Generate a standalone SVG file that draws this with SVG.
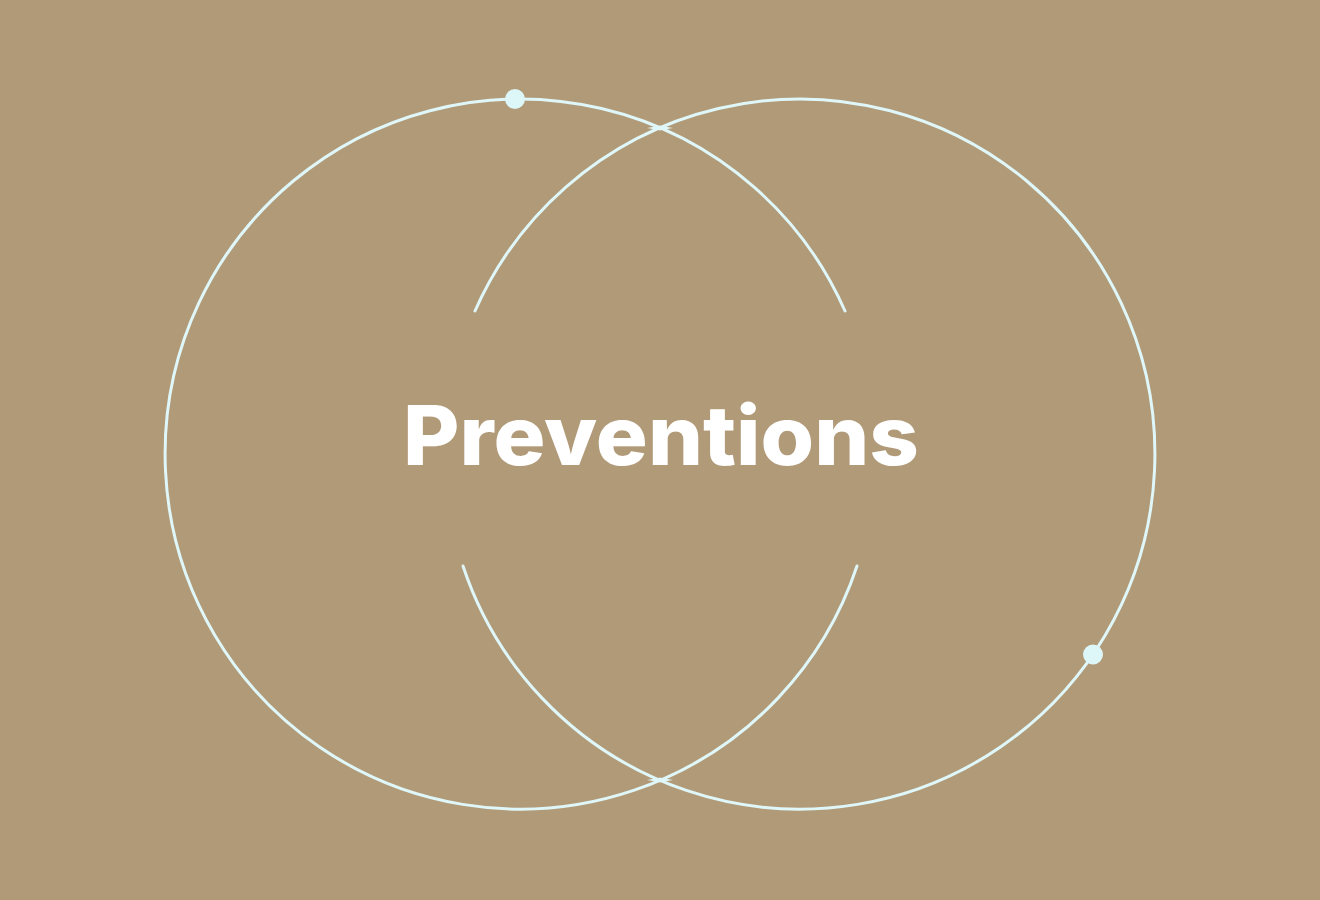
<svg xmlns="http://www.w3.org/2000/svg" width="1320" height="900" viewBox="0 0 1320 900">
  <style>
    .ring { fill: none; stroke: #E0F7F9; stroke-width: 3; stroke-linecap: round; }
    .dot { fill: #DDF6F8; }
    .joint { fill: #E0F7F9; }
    .title { font-family: Inter, "Open Sans", "Liberation Sans", sans-serif; font-weight: 800; font-size: 82px; fill: #FFFFFF; }
  </style>
  <rect width="1320" height="900" fill="#B19A78"/>
  <g id="connectors">
    <path id="left-ring" class="ring" d="M 845 311 A 355 355 0 1 0 857 566"/>
    <path id="right-ring" class="ring" d="M 475 311 A 355 355 0 1 1 463 566"/>
    <path class="joint" d="M 647 128 Q 660 126 660 125.5 Q 660 126 673 128 Q 660 130 660 130.5 Q 660 130 647 128 Z"/>
    <path class="joint" d="M 647 780 Q 660 778 660 777.5 Q 660 778 673 780 Q 660 782 660 782.5 Q 660 782 647 780 Z"/>
  </g>
  <g id="dot-top"><circle class="dot" cx="515" cy="99" r="10"/></g>
  <g id="dot-right"><circle class="dot" cx="1093" cy="654.5" r="10"/></g>
  <g id="title"><text class="title" x="661" y="465" text-anchor="middle" textLength="516" lengthAdjust="spacingAndGlyphs">Preventions</text></g>
</svg>
